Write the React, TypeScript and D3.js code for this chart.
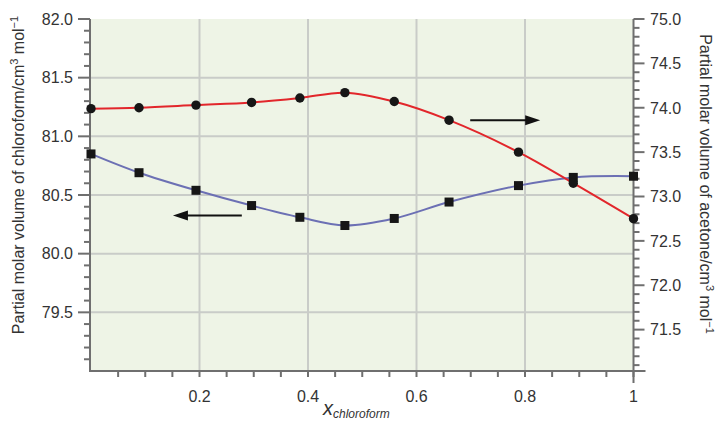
import React from "react";
import * as d3 from "d3";

const xValues = [0, 0.0885, 0.1935, 0.296, 0.385, 0.468, 0.559, 0.66, 0.788, 0.889, 1.0];
const chloroform = [80.85, 80.69, 80.54, 80.41, 80.31, 80.24, 80.3, 80.44, 80.58, 80.65, 80.66];
const acetone = [73.99, 74.0, 74.03, 74.06, 74.11, 74.17, 74.07, 73.86, 73.5, 73.15, 72.75];

const xTickLabels = ["0.2", "0.4", "0.6", "0.8", "1"];
const xTickValues = [0.2, 0.4, 0.6, 0.8, 1];
const leftTickValues = [79.5, 80.0, 80.5, 81.0, 81.5, 82.0];
const rightTickValues = [71.5, 72.0, 72.5, 73.0, 73.5, 74.0, 74.5, 75.0];

const W = 715;
const H = 425;
const FONT = "'Liberation Sans', Arial, Helvetica, sans-serif";
const AXIS = "#6f6f6f";
const TEXT = "#333";

export default function App() {
  const x = d3.scaleLinear().domain([0, 1]).range([91, 633.5]);
  const yL = d3.scaleLinear().domain([79, 82]).range([371, 19]);
  const yR = d3.scaleLinear().domain([71, 75]).range([374, 19]);

  const chlPts = xValues.map((v, i) => [x(v), yL(chloroform[i])] as [number, number]);
  const acePts = xValues.map((v, i) => [x(v), yR(acetone[i])] as [number, number]);
  const line = d3.line().curve(d3.curveCatmullRom.alpha(0.5));

  const x0 = x(0);
  const x1 = x(1);
  const yTop = yL(82);
  const yBot = yL(79);

  const xMinor = d3.range(1, 21).map((i) => i * 0.05);
  const leftMinor = d3.range(1, 31).map((i) => 79 + i * 0.1);
  const rightMinor = d3.range(1, 41).map((i) => 71 + i * 0.1);

  const isMajor = (v: number, step: number) => Math.abs(v / step - Math.round(v / step)) < 1e-6;

  // arrows (annotation positions in data coords)
  const la = { y: yL(80.325), tip: x(0.151), tail: x(0.278) };
  const ra = { y: yR(73.86), tip: x(0.828), tail: x(0.699) };

  return (
    <svg width={W} height={H} style={{ position: "absolute", left: 0, top: 0, background: "#fff" }}>
      <rect x={x0} y={yTop} width={x1 - x0} height={yBot - yTop} fill="#eef4e6" />
      {/* grid */}
      {[0.2, 0.4, 0.6, 0.8].map((v) => (
        <line key={"gx" + v} x1={x(v)} x2={x(v)} y1={yTop} y2={yBot} stroke="#c9ccc8" strokeWidth={2} />
      ))}
      {[79.5, 80, 80.5, 81, 81.5].map((v) => (
        <line key={"gy" + v} x1={x0} x2={x1} y1={yL(v)} y2={yL(v)} stroke="#c9ccc8" strokeWidth={2} />
      ))}

      {/* left axis */}
      <line x1={x0 - 1} x2={x0 - 1} y1={yTop} y2={yBot + 1} stroke={AXIS} strokeWidth={2} />
      {leftMinor.map((v) => {
        const maj = isMajor(v, 0.5);
        return (
          <line key={"lt" + v} x1={x0 - 1} x2={x0 - 1 - (maj ? 12 : 6)} y1={yL(v)} y2={yL(v)} stroke={AXIS} strokeWidth={2} />
        );
      })}
      {leftTickValues.map((v) => (
        <text key={"ll" + v} x={73} y={yL(v)} dy="0.36em" textAnchor="end" fontFamily={FONT} fontSize={16} fill={TEXT}>
          {v.toFixed(1)}
        </text>
      ))}

      {/* right axis */}
      <line x1={x1} x2={x1} y1={yTop} y2={yBot + 12} stroke={AXIS} strokeWidth={2} />
      {rightMinor.map((v) => {
        const maj = isMajor(v, 0.5);
        return (
          <line key={"rt" + v} x1={x1} x2={x1 + (maj ? 11 : 6)} y1={yR(v)} y2={yR(v)} stroke={AXIS} strokeWidth={2} />
        );
      })}
      {rightTickValues.map((v) => (
        <text key={"rl" + v} x={650} y={yR(v)} dy="0.36em" textAnchor="start" fontFamily={FONT} fontSize={16} fill={TEXT}>
          {v.toFixed(1)}
        </text>
      ))}

      {/* x axis */}
      <line x1={x0 - 2} x2={x1 + 12} y1={yBot} y2={yBot} stroke={AXIS} strokeWidth={2} />
      {xMinor.map((v) => (
        <line key={"xt" + v} x1={x(v)} x2={x(v)} y1={yBot} y2={yBot + 6} stroke={AXIS} strokeWidth={2} />
      ))}
      {xTickValues.map((v, i) => (
        <text key={"xl" + v} x={x(v)} y={402} textAnchor="middle" fontFamily={FONT} fontSize={16} fill={TEXT}>
          {xTickLabels[i]}
        </text>
      ))}

      {/* curves */}
      <path d={line(chlPts) || ""} fill="none" stroke="#6c70b4" strokeWidth={2} />
      <path d={line(acePts) || ""} fill="none" stroke="#e2262b" strokeWidth={2} />
      {chlPts.map(([px, py], i) => (
        <rect key={"sq" + i} x={px - 4.5} y={py - 4.5} width={9} height={9} fill="#161616" />
      ))}
      {acePts.map(([px, py], i) => (
        <circle key={"ci" + i} cx={px} cy={py} r={4.7} fill="#161616" />
      ))}

      {/* arrows */}
      <line x1={la.tail} x2={la.tip + 12} y1={la.y} y2={la.y} stroke="#111" strokeWidth={2} />
      <path d={`M${la.tip},${la.y} L${la.tip + 15},${la.y - 5} L${la.tip + 15},${la.y + 5} Z`} fill="#111" />
      <line x1={ra.tail} x2={ra.tip - 12} y1={ra.y} y2={ra.y} stroke="#111" strokeWidth={2} />
      <path d={`M${ra.tip},${ra.y} L${ra.tip - 15},${ra.y - 5} L${ra.tip - 15},${ra.y + 5} Z`} fill="#111" />

      {/* axis titles */}
      <text
        transform={`translate(24,175) rotate(-90)`}
        textAnchor="middle"
        fontFamily={FONT}
        fontSize={16}
        fill={TEXT}
      >
        Partial molar volume of chloroform/cm
        <tspan fontSize={11} dy={-6}>3</tspan>
        <tspan dy={6}> mol</tspan>
        <tspan fontSize={11} dy={-6}>−1</tspan>
      </text>
      <text
        transform={`translate(700,184) rotate(90)`}
        textAnchor="middle"
        fontFamily={FONT}
        fontSize={16}
        fill={TEXT}
      >
        Partial molar volume of acetone/cm
        <tspan fontSize={11} dy={-6}>3</tspan>
        <tspan dy={6}> mol</tspan>
        <tspan fontSize={11} dy={-6}>−1</tspan>
      </text>
      <text x={323} y={415} fontFamily={FONT} fontStyle="italic" fill={TEXT}>
        <tspan fontSize={20}>x</tspan>
        <tspan fontSize={12} dy={3}>chloroform</tspan>
      </text>
    </svg>
  );
}
